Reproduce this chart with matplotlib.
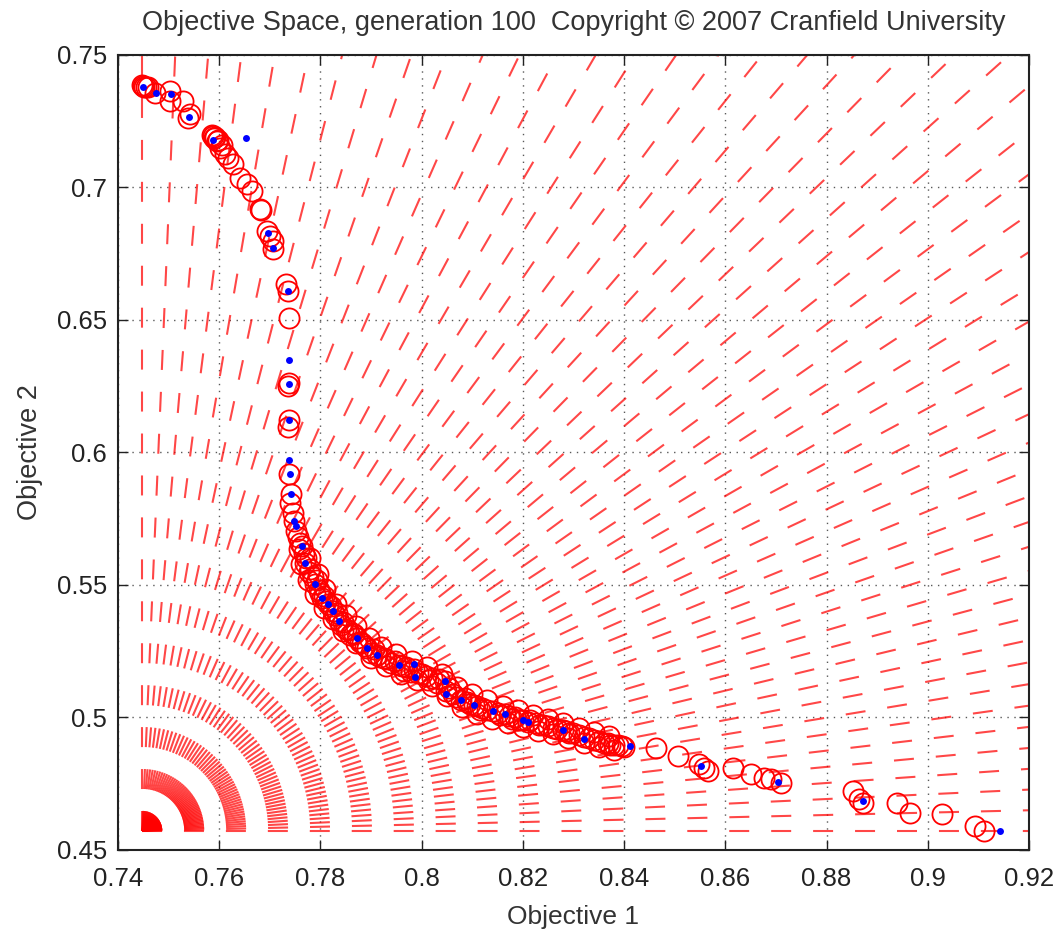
import numpy as np
import matplotlib.pyplot as plt

plt.rcParams['font.family'] = ['Liberation Sans', 'DejaVu Sans']
plt.rcParams['lines.scale_dashes'] = False

# population (red circles) at generation 100
pop_obj1 = [0.7450, 0.7452, 0.7455, 0.7448, 0.7460, 0.7473, 0.7503, 0.7503, 0.7529, 0.7543,
            0.7539, 0.7588, 0.7585, 0.7590, 0.7592, 0.7596, 0.7598, 0.7602, 0.7605, 0.7612,
            0.7618, 0.7628, 0.7642, 0.7655, 0.7665, 0.7681, 0.7683, 0.7695, 0.7701, 0.7707,
            0.7707, 0.7731, 0.7735, 0.7737, 0.7737, 0.7735, 0.7737, 0.7735, 0.7737, 0.7741,
            0.7739, 0.7745, 0.7747, 0.7752, 0.7755, 0.7758,
            0.7760, 0.7764, 0.7768, 0.7770, 0.7772, 0.7778, 0.7780, 0.7785, 0.7790, 0.7793,
            0.7797, 0.7800, 0.7804, 0.7808, 0.7812, 0.7814, 0.7820, 0.7824, 0.7828, 0.7832,
            0.7836, 0.7840, 0.7845, 0.7850, 0.7855, 0.7858, 0.7862, 0.7866, 0.7873, 0.7878,
            0.7882, 0.7888, 0.7893, 0.7900, 0.7905, 0.7911, 0.7918, 0.7925, 0.7930, 0.7940,
            0.7948, 0.7956, 0.7962, 0.7965, 0.7970, 0.7978, 0.7984, 0.7992, 0.8000, 0.8008,
            0.8012, 0.8020, 0.8030, 0.8035, 0.8046, 0.8048, 0.8055, 0.8062, 0.8068, 0.8077,
            0.8085, 0.8090, 0.8095, 0.8103, 0.8110, 0.8115, 0.8120, 0.8130, 0.8141, 0.8150,
            0.8155, 0.8164, 0.8172, 0.8178, 0.8185, 0.8192, 0.8200, 0.8210, 0.8215, 0.8225,
            0.8232, 0.8240, 0.8250, 0.8260, 0.8268, 0.8279, 0.8285, 0.8292, 0.8300, 0.8310,
            0.8321, 0.8330, 0.8340, 0.8350, 0.8360, 0.8368, 0.8372, 0.8380, 0.8388, 0.8395,
            0.8400,
            0.7780, 0.7795, 0.7810, 0.7830, 0.7850, 0.7870, 0.7895, 0.7920, 0.7950, 0.7980,
            0.8010, 0.8040, 0.8070, 0.8100, 0.8130, 0.8160, 0.8190, 0.8220, 0.8250, 0.8280,
            0.8310, 0.8340, 0.8370,
            0.7762, 0.7775, 0.7790, 0.7808, 0.7825, 0.7845, 0.7870, 0.7900, 0.7930, 0.7960,
            0.7990, 0.8020, 0.8050, 0.8080, 0.8110, 0.8140, 0.8170, 0.8200, 0.8230, 0.8260,
            0.8290, 0.8320, 0.8350, 0.8380,
            0.8463, 0.8507, 0.8549, 0.8558, 0.8566, 0.8616, 0.8651, 0.8677, 0.8691, 0.8711,
            0.8853, 0.8865, 0.8873, 0.8939, 0.8964, 0.9028, 0.9093, 0.9111]
pop_obj2 = [0.7383, 0.7378, 0.7380, 0.7385, 0.7378, 0.7357, 0.7364, 0.7326, 0.7326, 0.7277,
            0.7262, 0.7194, 0.7198, 0.7185, 0.7190, 0.7175, 0.7180, 0.7149, 0.7160, 0.7126,
            0.7111, 0.7089, 0.7036, 0.7013, 0.6987, 0.6919, 0.6915, 0.6836, 0.6817, 0.6798,
            0.6768, 0.6636, 0.6610, 0.6506, 0.6262, 0.6250, 0.6123, 0.6095, 0.5919, 0.5843,
            0.5810, 0.5770, 0.5742, 0.5704, 0.5680, 0.5636,
            0.5660, 0.5647, 0.5620, 0.5583, 0.5600, 0.5550, 0.5560, 0.5530, 0.5504, 0.5520,
            0.5480, 0.5470, 0.5451, 0.5460, 0.5440, 0.5428, 0.5420, 0.5402, 0.5385, 0.5395,
            0.5364, 0.5350, 0.5360, 0.5335, 0.5330, 0.5310, 0.5320, 0.5315, 0.5300, 0.5285,
            0.5280, 0.5270, 0.5262, 0.5245, 0.5258, 0.5236, 0.5230, 0.5225, 0.5220, 0.5205,
            0.5215, 0.5198, 0.5195, 0.5175, 0.5190, 0.5170, 0.5182, 0.5168, 0.5165, 0.5155,
            0.5140, 0.5150, 0.5130, 0.5145, 0.5138, 0.5100, 0.5110, 0.5090, 0.5078, 0.5066,
            0.5072, 0.5060, 0.5050, 0.5047, 0.5045, 0.5030, 0.5035, 0.5028, 0.5025, 0.5018,
            0.5010, 0.5013, 0.5005, 0.4995, 0.5000, 0.4992, 0.4991, 0.4983, 0.4990, 0.4978,
            0.4970, 0.4970, 0.4968, 0.4960, 0.4955, 0.4953, 0.4948, 0.4940, 0.4940, 0.4935,
            0.4925, 0.4922, 0.4915, 0.4912, 0.4905, 0.4905, 0.4898, 0.4898, 0.4895, 0.4893,
            0.4890,
            0.5600, 0.5540, 0.5485, 0.5430, 0.5385, 0.5345, 0.5300, 0.5265, 0.5240, 0.5215,
            0.5190, 0.5165, 0.5115, 0.5090, 0.5065, 0.5045, 0.5030, 0.5010, 0.4995, 0.4980,
            0.4962, 0.4945, 0.4930,
            0.5580, 0.5520, 0.5465, 0.5415, 0.5370, 0.5325, 0.5280, 0.5225, 0.5195, 0.5165,
            0.5140, 0.5120, 0.5080, 0.5040, 0.5015, 0.4995, 0.4980, 0.4965, 0.4950, 0.4938,
            0.4922, 0.4905, 0.4890, 0.4878,
            0.4885, 0.4855, 0.4825, 0.4809, 0.4798, 0.4809, 0.4787, 0.4772, 0.4768, 0.4753,
            0.4723, 0.4692, 0.4677, 0.4677, 0.4640, 0.4636, 0.4591, 0.4572]

# offspring / non-dominated points (blue dots)
nd_obj1 = [0.7450, 0.7475, 0.7505, 0.7541, 0.7588, 0.7653, 0.7697, 0.7707, 0.7735, 0.7737,
           0.7737, 0.7737, 0.7737, 0.7739, 0.7741, 0.7747, 0.7752, 0.7764, 0.7770, 0.7790,
           0.7804, 0.7814, 0.7824, 0.7836, 0.7873, 0.7893, 0.7911, 0.7956, 0.7984, 0.7986,
           0.8046, 0.8048, 0.8077, 0.8103, 0.8141, 0.8164, 0.8200, 0.8210, 0.8279, 0.8321,
           0.8412, 0.8552, 0.8705, 0.8873, 0.9143]
nd_obj2 = [0.7379, 0.7357, 0.7353, 0.7266, 0.7179, 0.7187, 0.6828, 0.6772, 0.6610, 0.6349,
           0.6258, 0.6123, 0.5972, 0.5919, 0.5843, 0.5742, 0.5723, 0.5647, 0.5583, 0.5504,
           0.5451, 0.5428, 0.5402, 0.5364, 0.5300, 0.5262, 0.5236, 0.5198, 0.5202, 0.5153,
           0.5138, 0.5089, 0.5066, 0.5047, 0.5025, 0.5013, 0.4991, 0.4983, 0.4953, 0.4919,
           0.4892, 0.4817, 0.4757, 0.4685, 0.4572]

# reference directions (degrees, in scaled objective space)
ref_angles = [0, 1.8, 3.6, 5.4, 7.2, 9, 10.8, 12.6, 14.4, 16.2, 18, 19.8, 21.6, 23.4,
              25.2, 27, 28.8, 30.6, 32.4, 34.2, 36, 37.8, 39.6, 41.4, 43.2, 45, 46.8,
              48.6, 50.4, 52.2, 54, 55.8, 57.6, 59.4, 61.2, 63, 64.8, 66.6, 68.4, 70.2,
              72, 73.8, 75.6, 77.4, 79.2, 81, 82.8, 84.6, 86.4, 88.2, 90]
ref_scale = (0.169, 0.239)

xticks = [0.74, 0.76, 0.78, 0.8, 0.82, 0.84, 0.86, 0.88, 0.9, 0.92]
xticklabels = ['0.74', '0.76', '0.78', '0.8', '0.82', '0.84', '0.86', '0.88', '0.9', '0.92']
yticks = [0.45, 0.5, 0.55, 0.6, 0.65, 0.7, 0.75]
yticklabels = ['0.45', '0.5', '0.55', '0.6', '0.65', '0.7', '0.75']

ideal = (min(nd_obj1 + pop_obj1), min(nd_obj2 + pop_obj2))

fig = plt.figure(figsize=(10.61, 9.32), dpi=100)
ax = fig.add_axes([0.1112, 0.088, 0.8586, 0.853])

for a in ref_angles:
    t = np.radians(a)
    ax.plot([ideal[0], ideal[0] + 2.5 * ref_scale[0] * np.cos(t)],
            [ideal[1], ideal[1] + 2.5 * ref_scale[1] * np.sin(t)],
            color='red', alpha=0.72, lw=1.5, dashes=(14.4, 15.8), zorder=1)

ax.plot(pop_obj1, pop_obj2, 'o', mfc='none', mec='red', ms=14.5, mew=1.3, zorder=3)
ax.plot(nd_obj1, nd_obj2, 'o', color='blue', mec='none', ms=5, zorder=4)

ax.set_xlim(0.74, 0.92)
ax.set_ylim(0.45, 0.75)
ax.set_xticks(xticks)
ax.set_xticklabels(xticklabels)
ax.set_yticks(yticks)
ax.set_yticklabels(yticklabels)
ax.grid(True, color='0.35', linestyle=(0, (1, 4)), lw=1.0, zorder=0)
ax.set_axisbelow(True)
ax.tick_params(direction='in', length=7, width=1, top=True, right=True,
               labelsize=18.5, colors='#222222', pad=8)
ax.tick_params(axis='x', pad=12)
for s in ax.spines.values():
    s.set_linewidth(1.5)
    s.set_color('#222222')

ax.set_xlabel('Objective 1', fontsize=19, color='#333333', labelpad=10)
ax.set_ylabel('Objective 2', fontsize=19.5, color='#333333', labelpad=10)
ax.set_title('Objective Space, generation 100  Copyright \u00a9 2007 Cranfield University',
             fontsize=19.5, color='#333333', pad=18)

fig.savefig('out.png', dpi=100)
